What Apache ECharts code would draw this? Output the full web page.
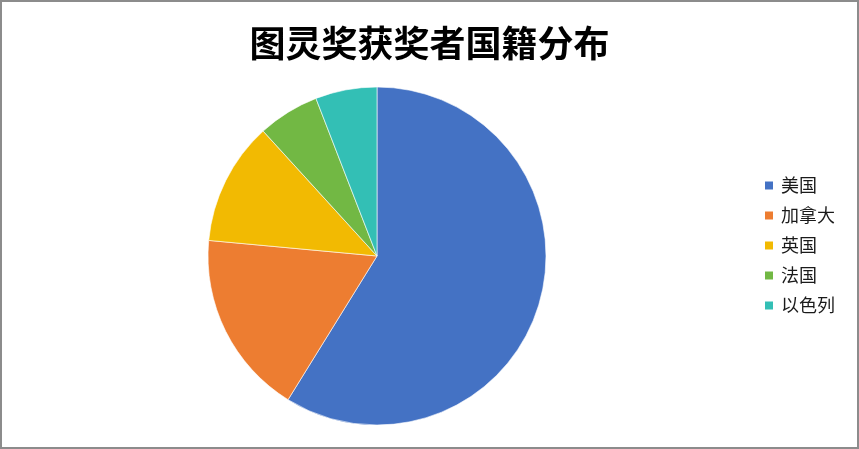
<!DOCTYPE html>
<html>
<head>
<meta charset="utf-8">
<script src="https://cdn.jsdelivr.net/npm/echarts@6/dist/echarts.min.js"></script>
<style>
  html, body { margin: 0; padding: 0; background: #fff; }
  #chart {
    width: 859px;
    height: 449px;
    box-sizing: border-box;
    border: 2px solid #8c8c8c;
  }
</style>
</head>
<body>
<div id="chart"></div>
<script>
// 图灵奖获奖者国籍分布
const countries = ["美国", "加拿大", "英国", "法国", "以色列"];
const winners = [10, 3, 2, 1, 1];
const colors = ["#4472c4", "#ed7d31", "#f2ba02", "#72b844", "#33bfb5"];

const chart = echarts.init(document.getElementById("chart"));

chart.setOption({
  backgroundColor: "#fff",
  animation: false,
  color: colors,
  title: {
    text: "图灵奖获奖者国籍分布",
    left: "center",
    top: 18,
    textStyle: {
      fontFamily: "Noto Sans CJK SC",
      fontWeight: "bold",
      fontSize: 36,
      color: "#000"
    }
  },
  legend: {
    orient: "vertical",
    left: 761,
    top: 173,
    padding: 0,
    itemWidth: 10,
    itemHeight: 10,
    itemGap: 9,
    icon: "rect",
    data: countries,
    textStyle: {
      fontFamily: "Noto Sans CJK SC",
      fontSize: 18,
      lineHeight: 21,
      color: "#1a1a1a",
      padding: [0, 0, 0, 2]
    }
  },
  series: [
    {
      type: "pie",
      center: [375, 254],
      radius: 169,
      startAngle: 90,
      clockwise: true,
      label: { show: false },
      labelLine: { show: false },
      itemStyle: { borderColor: "#fff", borderWidth: 0.6 },
      data: countries.map((name, i) => ({ name: name, value: winners[i] }))
    }
  ]
});
</script>
</body>
</html>
